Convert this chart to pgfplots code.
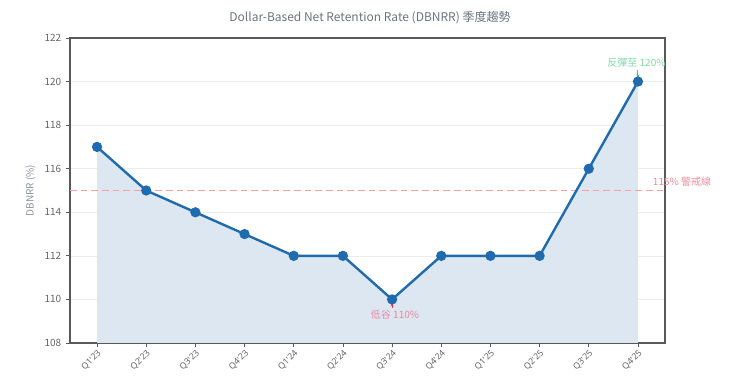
\documentclass[border=0pt]{standalone}
\usepackage{pgfplots}
\pgfplotsset{compat=1.18}
\usepackage{fontspec}
\setmainfont{Noto Sans CJK TC}
\newfontfamily\latfont{Noto Sans}
\usetikzlibrary{arrows.meta}
\definecolor{lineblue}{HTML}{1F6BAE}
\definecolor{fillblue}{HTML}{DCE7F2}
\definecolor{warnred}{HTML}{F4A3A0}
\definecolor{warntext}{HTML}{F08C9C}
\definecolor{upgreen}{HTML}{2ECC71}
\definecolor{uptext}{HTML}{82D9A6}
\definecolor{lowred}{HTML}{E8344E}
\definecolor{lowtext}{HTML}{E88AA0}
\definecolor{ticktext}{HTML}{666666}
\definecolor{titletext}{HTML}{6B7480}
\definecolor{ylabtext}{HTML}{8A95A5}
\begin{document}
\begin{tikzpicture}
\path[use as bounding box] (-52.5pt,-36pt) rectangle (502.5pt,257.25pt);
\begin{axis}[
  scale only axis, width=446.25pt, height=228.75pt,
  at={(0,0)}, anchor=south west,
  xmin=-0.55, xmax=11.55, ymin=108, ymax=122,
  xtick={0,...,11},
  xticklabels={Q1'23,Q2'23,Q3'23,Q4'23,Q1'24,Q2'24,Q3'24,Q4'24,Q1'25,Q2'25,Q3'25,Q4'25},
  xticklabel style={rotate=45, anchor=north east, font=\latfont\fontsize{6.5}{8}\selectfont, text=ticktext, inner sep=1pt},
  ytick={108,110,...,122},
  yticklabel style={font=\fontsize{7.5}{9}\selectfont, text=ticktext},
  /pgf/number format/assume math mode=true,
  ymajorgrids, grid style={gray!15, line width=0.5pt},
  axis line style={gray!70!black, line width=0.8pt},
  tick style={gray!70!black, line width=0.6pt},
  tick align=outside, major tick length=3pt,
  xtick pos=bottom, ytick pos=left,
  ylabel={DBNRR (\%)}, ylabel style={font=\fontsize{7.5}{9}\selectfont, text=ylabtext},
  clip=false,
]
\addplot[draw=none, fill=fillblue] coordinates {(0,117)(1,115)(2,114)(3,113)(4,112)(5,112)(6,110)(7,112)(8,112)(9,112)(10,116)(11,120)} \closedcycle;
\addplot[warnred, line width=0.9pt, dash pattern=on 5pt off 3pt] coordinates {(-0.55,115)(11.55,115)};
\addplot[lineblue, line width=1.8pt, mark=*, mark size=2.9pt] coordinates {(0,117)(1,115)(2,114)(3,113)(4,112)(5,112)(6,110)(7,112)(8,112)(9,112)(10,116)(11,120)};
\node[anchor=west, text=warntext, font=\fontsize{7.5}{9}\selectfont, inner sep=0pt] at (axis cs:11.3,115.42) {115\% 警戒線};
\draw[-{Stealth[length=3pt]}, upgreen, line width=0.8pt] (axis cs:11,120.55) -- (axis cs:11,120.14);
\node[text=uptext, font=\fontsize{7.5}{9}\selectfont, inner sep=0pt] at (axis cs:10.97,120.85) {反彈至 120\%};
\draw[-{Stealth[length=3pt]}, lowred, line width=0.8pt] (axis cs:6,109.62) -- (axis cs:6,109.86);
\node[text=lowtext, font=\fontsize{7.5}{9}\selectfont, inner sep=0pt] at (axis cs:6.06,109.3) {低谷 110\%};
\end{axis}
\node[text=titletext, font=\fontsize{9}{11}\selectfont] at (225pt,243.75pt) {Dollar-Based Net Retention Rate (DBNRR) 季度趨勢};
\end{tikzpicture}
\end{document}
